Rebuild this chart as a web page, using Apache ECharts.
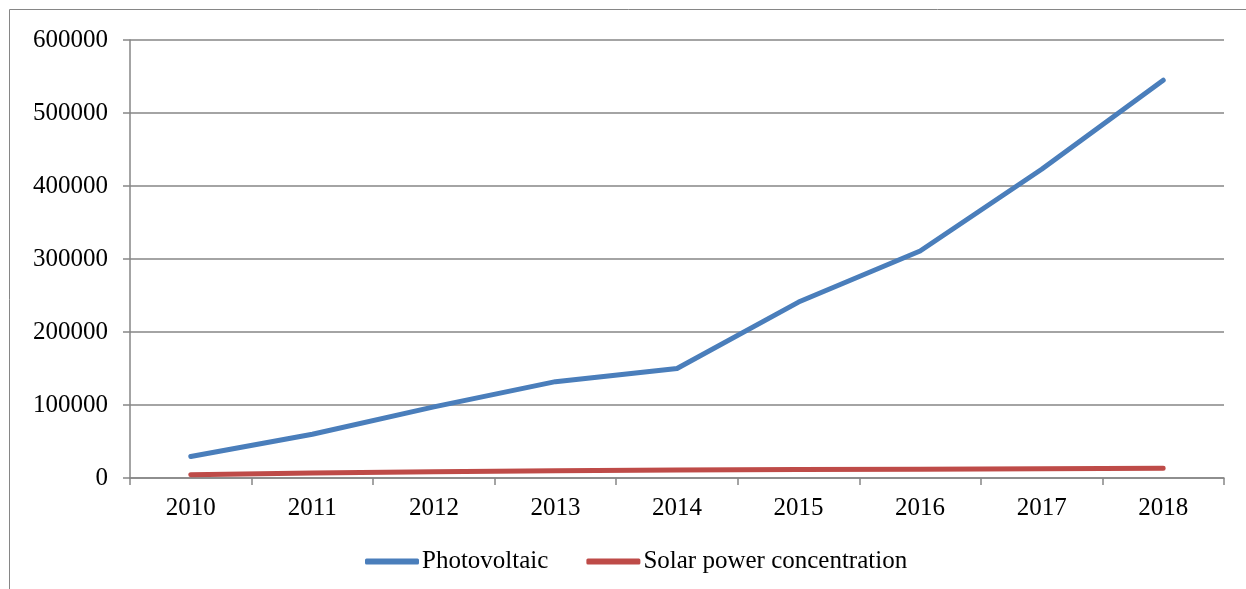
<!DOCTYPE html>
<html>
<head>
<meta charset="utf-8">
<script src="https://cdn.jsdelivr.net/npm/echarts@6/dist/echarts.min.js"></script>
<style>
  html, body { margin: 0; padding: 0; background: #fff; }
  #chart { width: 1246px; height: 589px; }
</style>
</head>
<body>
<div id="chart"></div>
<script>
  const years = ['2010', '2011', '2012', '2013', '2014', '2015', '2016', '2017', '2018'];
  const photovoltaic = [29500, 60000, 97500, 132000, 150000, 241000, 311000, 423000, 545000];
  const solarConcentration = [4500, 7000, 8500, 10000, 11000, 11500, 12000, 12800, 13500];

  const FONT = '"Liberation Serif", "Times New Roman", serif';
  const GRID_COLOR = '#868686';

  let myChart = echarts.init(document.getElementById('chart'));
  let option = {
    animation: false,
    textStyle: { fontFamily: FONT },
    graphic: [
      {
        type: 'rect',
        shape: { x: 9.5, y: 9.5, width: 1300, height: 700 },
        style: { fill: 'none', stroke: GRID_COLOR, lineWidth: 1 },
        silent: true
      }
    ],
    grid: {
      top: 40,
      left: 130,
      right: 22,
      bottom: 111
    },
    legend: {
      top: 544,
      left: 360,
      icon: 'roundRect',
      itemWidth: 54,
      itemHeight: 6,
      itemGap: 38,
      textStyle: { fontFamily: FONT, fontSize: 25, color: '#000', padding: [0, 0, 0, -2] },
      data: ['Photovoltaic', 'Solar power concentration']
    },
    xAxis: {
      type: 'category',
      data: years,
      boundaryGap: true,
      axisLine: { show: true, lineStyle: { color: GRID_COLOR, width: 1.5 } },
      axisTick: { show: true, length: 7, lineStyle: { color: GRID_COLOR, width: 1.5 } },
      axisLabel: { color: '#000', fontFamily: FONT, fontSize: 25, margin: 18 }
    },
    yAxis: {
      type: 'value',
      min: 0,
      max: 600000,
      interval: 100000,
      axisLine: { show: true, lineStyle: { color: GRID_COLOR, width: 1.5 } },
      axisTick: { show: true, length: 7, lineStyle: { color: GRID_COLOR, width: 1.5 } },
      splitLine: { show: true, lineStyle: { color: GRID_COLOR, width: 1.5 } },
      axisLabel: {
        color: '#000', fontFamily: FONT, fontSize: 25, margin: 22,
        formatter: function (v) { return String(v); }
      }
    },
    series: [
      {
        name: 'Photovoltaic',
        type: 'line',
        symbol: 'none',
        data: photovoltaic,
        itemStyle: { color: '#4a7ebb' },
        lineStyle: { color: '#4a7ebb', width: 5, cap: 'round', join: 'round' }
      },
      {
        name: 'Solar power concentration',
        type: 'line',
        symbol: 'none',
        data: solarConcentration,
        itemStyle: { color: '#be4b48' },
        lineStyle: { color: '#be4b48', width: 5, cap: 'round', join: 'round' }
      }
    ]
  };
  option && myChart.setOption(option);
</script>
</body>
</html>
